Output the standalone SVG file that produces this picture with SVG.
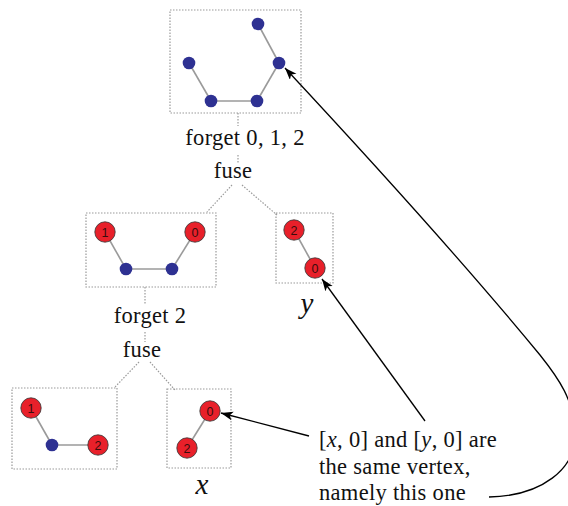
<svg xmlns="http://www.w3.org/2000/svg" width="568" height="506" viewBox="0 0 568 506">
<style>
.box{fill:none;stroke:#9a9a9a;stroke-width:1.2;stroke-dasharray:1.5 1.5}
.dot{fill:none;stroke:#9a9a9a;stroke-width:1.2;stroke-dasharray:1.5 1.5}
.edge{stroke:#9a9a9a;stroke-width:1.6}
.bv{fill:#2e3192}
.rv{fill:#e8202a;stroke:#333;stroke-width:0.8}
.vl{font-family:"Liberation Sans",Arial,sans-serif;font-size:12.5px;fill:#3a0c0c;text-anchor:middle}
.lbl{font-family:"Liberation Serif","Times New Roman",serif;font-size:22.5px;fill:#111;letter-spacing:0.3px}
.var{font-family:"Liberation Serif","Times New Roman",serif;font-size:29px;font-style:italic;fill:#111;text-anchor:middle}
.arr{fill:none;stroke:#000;stroke-width:1.3}
</style>
<defs>
<marker id="ah" markerUnits="userSpaceOnUse" markerWidth="14" markerHeight="10" refX="12" refY="4.5" orient="auto">
<path d="M0,0 L12,4.5 L0,9 L3,4.5 z" fill="#000"/>
</marker>
</defs>

<g id="top">
<rect class="box" x="170" y="10" width="131" height="103"/>
<line class="edge" x1="258" y1="24" x2="279" y2="63"/>
<line class="edge" x1="279" y1="63" x2="257" y2="101"/>
<line class="edge" x1="257" y1="101" x2="211" y2="101"/>
<line class="edge" x1="211" y1="101" x2="189" y2="63"/>
<circle class="bv" cx="258" cy="24" r="6.3"/>
<circle class="bv" cx="279" cy="63" r="6.3"/>
<circle class="bv" cx="189" cy="63" r="6.3"/>
<circle class="bv" cx="211" cy="101" r="6.3"/>
<circle class="bv" cx="257" cy="101" r="6.3"/>
</g>

<g id="op-forget012"><text class="lbl" x="245" y="145" text-anchor="middle">forget 0, 1, 2</text></g>
<g id="op-fuse1"><text class="lbl" x="233" y="178" text-anchor="middle">fuse</text></g>

<g id="midleft">
<rect class="box" x="86" y="213" width="130" height="74"/>
<line class="edge" x1="105" y1="232" x2="126" y2="269"/>
<line class="edge" x1="126" y1="269" x2="172" y2="269"/>
<line class="edge" x1="172" y1="269" x2="195" y2="232"/>
<circle class="bv" cx="126" cy="269" r="6.3"/>
<circle class="bv" cx="172" cy="269" r="6.3"/>
<circle class="rv" cx="105" cy="232" r="10.2"/>
<text class="vl" x="105" y="236.5">1</text>
<circle class="rv" cx="195" cy="232" r="10.2"/>
<text class="vl" x="195" y="236.5">0</text>
</g>

<g id="y">
<rect class="box" x="276" y="213" width="57" height="70"/>
<line class="edge" x1="294" y1="230" x2="315" y2="268"/>
<circle class="rv" cx="294" cy="230" r="10.2"/>
<text class="vl" x="294" y="234.5">2</text>
<circle class="rv" cx="315" cy="268" r="10.2"/>
<text class="vl" x="315" y="272.5">0</text>
<text class="var" x="307" y="313">y</text>
</g>

<g id="op-forget2"><text class="lbl" x="150" y="323" text-anchor="middle">forget 2</text></g>
<g id="op-fuse2"><text class="lbl" x="142" y="357" text-anchor="middle">fuse</text></g>

<g id="botleft">
<rect class="box" x="12" y="388" width="105" height="81"/>
<line class="edge" x1="31" y1="408" x2="52" y2="445"/>
<line class="edge" x1="52" y1="445" x2="98" y2="445"/>
<circle class="bv" cx="52" cy="445" r="6.3"/>
<circle class="rv" cx="31" cy="408" r="10.2"/>
<text class="vl" x="31" y="412.5">1</text>
<circle class="rv" cx="98" cy="445" r="10.2"/>
<text class="vl" x="98" y="449.5">2</text>
</g>

<g id="x">
<rect class="box" x="167" y="389" width="64" height="79"/>
<line class="edge" x1="210" y1="411" x2="187" y2="448"/>
<circle class="rv" cx="210" cy="411" r="10.2"/>
<text class="vl" x="210" y="415.5">0</text>
<circle class="rv" cx="187" cy="448" r="10.2"/>
<text class="vl" x="187" y="452.5">2</text>
<text class="var" x="202" y="494">x</text>
</g>

<g id="note">
<text class="lbl" x="319" y="447">[<tspan font-style="italic">x</tspan>, 0] and [<tspan font-style="italic">y</tspan>, 0] are</text>
<text class="lbl" x="319" y="473.5">the same vertex,</text>
<text class="lbl" x="319" y="500">namely this one</text>
</g>

<g id="connectors">
<line class="dot" x1="238" y1="113" x2="238" y2="126"/>
<line class="dot" x1="238" y1="155" x2="238" y2="164"/>
<line class="dot" x1="232" y1="185" x2="207" y2="212"/>
<line class="dot" x1="242" y1="185" x2="277" y2="215"/>
<line class="dot" x1="145" y1="287" x2="145" y2="305"/>
<line class="dot" x1="145" y1="332" x2="145" y2="342"/>
<line class="dot" x1="139" y1="362" x2="115" y2="387"/>
<line class="dot" x1="150" y1="362" x2="175" y2="390"/>
<path class="arr" d="M309,436 L221,413" marker-end="url(#ah)"/>
<path class="arr" d="M425,421 L322,279" marker-end="url(#ah)"/>
<path class="arr" d="M489,497 C540,496 578,470 575,430 C573,400 560,380 540,355 C470,270 380,170 285,68" marker-end="url(#ah)"/>
</g>
</svg>
